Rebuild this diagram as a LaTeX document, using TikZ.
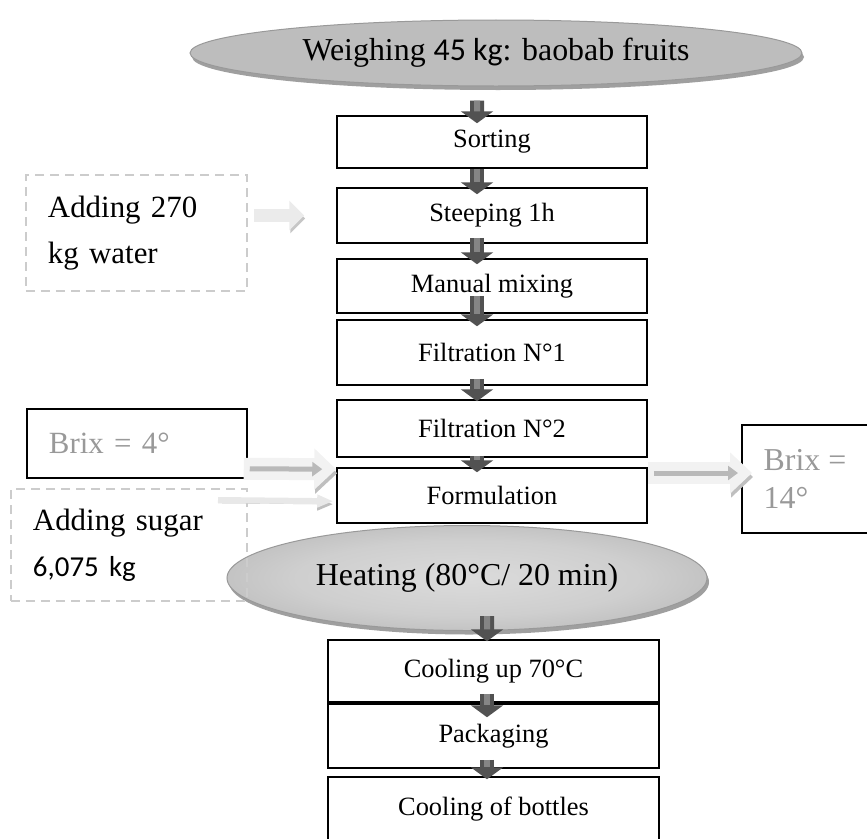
\documentclass[tikz,border=0pt]{standalone}
\usepackage{fontspec}
\setmainfont{Liberation Serif}
\newfontfamily\calibri{Carlito}
\usetikzlibrary{shapes.geometric,arrows.meta,shadows}
\pgfdeclareradialshading{heatshade}{\pgfpoint{0bp}{0bp}}{color(0bp)=(gray!28); color(18bp)=(gray!38); color(50bp)=(gray!78)}
\tikzset{
	stepbox/.style={draw, line width=1.5bp, minimum width=310bp, font=\fontsize{26.5}{30}\selectfont},
	sidebox/.style={draw, line width=1.5bp, align=left, inner xsep=22bp, font=\fontsize{31}{46}\selectfont},
	dashbox/.style={sidebox, draw=gray!40, line width=2bp, dash pattern=on 9bp off 6bp},
	oval/.style={ellipse, draw=gray!80, line width=1bp, font=\fontsize{32}{36}\selectfont, drop shadow={shadow xshift=2bp, shadow yshift=-4bp, fill=gray!75, opacity=1}},
	darr/.style={line width=14bp, draw=black!68, -{Triangle[width=32bp,length=12bp]}, postaction={draw=black!48, line width=6bp, arrows=-, shorten >=12bp}},
	waterarr/.style={line width=13bp, draw=gray!16, -{Triangle[width=29bp,length=15bp]}, preaction={draw=gray!45, transform canvas={shift={(1bp,-3bp)}}}},
	brixarr/.style={line width=22bp, draw=gray!10, -{Triangle[width=40bp,length=22bp]}, preaction={draw=gray!50, transform canvas={shift={(1bp,-4bp)}}}, postaction={draw=gray!55, line width=5bp, -{Triangle[width=14bp,length=10bp]}, shorten >=14bp, shorten <=6bp}},
	sugararr/.style={line width=6bp, draw=gray!18, -{Triangle[width=12bp,length=16bp]}, preaction={draw=gray!50, transform canvas={shift={(0bp,-3bp)}}}}
}
\begin{document}
\begin{tikzpicture}[x=1bp, y=-1bp, every node/.style={inner sep=0pt}]
	\useasboundingbox (0,0) rectangle (867,839);
	\node[oval, fill=gray!52, minimum width=612bp, minimum height=66bp] (weigh) at (496,53) {Weighing {\calibri 45 kg}: baobab fruits};
	\node[stepbox, minimum height=52bp] (sort) at (492,142) {Sorting};
	\node[stepbox, minimum height=55bp] (steep) at (492,215.5) {Steeping 1h};
	\node[stepbox, minimum height=54bp] (mix) at (492,286) {Manual mixing};
	\node[stepbox, minimum height=65bp] (filta) at (492,352.5) {Filtration N°1};
	\node[stepbox, minimum height=57bp] (filtb) at (492,428.5) {Filtration N°2};
	\node[stepbox, minimum height=55bp] (form) at (492,495.5) {Formulation};
	\node[oval, shade, shading=heatshade, minimum width=480bp, minimum height=105bp] (heat) at (467,578) {Heating (80°C/ 20 min)};
	\node[stepbox, minimum width=331bp, minimum height=62bp] (cool) at (493.5,671) {Cooling up 70°C};
	\node[stepbox, minimum width=331bp, minimum height=64bp] (pack) at (493.5,736) {Packaging};
	\node[stepbox, minimum width=331bp, minimum height=64bp] (bottle) at (493.5,809) {Cooling of bottles};
	\draw[darr] ([xshift=-19bp,yshift=-14bp]weigh.south) -- ([xshift=-15bp,yshift=-8bp]sort.north);
	\draw[darr] ([xshift=-15bp]sort.south) -- ([xshift=-15bp,yshift=-7bp]steep.north);
	\draw[darr] ([xshift=-15bp,yshift=6bp]steep.south) -- ([xshift=-15bp,yshift=-6bp]mix.north);
	\draw[darr] ([xshift=-15bp,yshift=18bp]mix.south) -- ([xshift=-15bp,yshift=-7bp]filta.north);
	\draw[darr] ([xshift=-15bp,yshift=7bp]filta.south) -- ([xshift=-15bp,yshift=-2bp]filtb.north);
	\draw[darr] ([xshift=-15bp,yshift=2bp]filtb.south) -- ([xshift=-15bp,yshift=-5bp]form.north);
	\draw[darr] ([xshift=20bp,yshift=15bp]heat.south) -- ([xshift=-6.5bp,yshift=-2bp]cool.north);
	\draw[darr] ([xshift=-6.5bp,yshift=9bp]cool.south) -- ([xshift=-6.5bp,yshift=-14bp]pack.north);
	\draw[darr] ([xshift=-6.5bp,yshift=9bp]pack.south) -- ([xshift=-6.5bp,yshift=-3bp]bottle.north);
	\node[dashbox, text width=177bp, minimum height=116bp] (water) at (136.5,233) {Adding 270\\kg water};
	\draw[waterarr, shorten <=6bp, shorten >=32bp] (water.east |- steep.west) -- (steep.west);
	\node[sidebox, text=gray!80, text width=176bp, minimum height=69bp] (brixa) at (137,443.5) {Brix = 4°};
	\node[dashbox, text width=192bp, minimum height=112bp] (sugar) at (129,545) {Adding sugar\\{\calibri\fontsize{29}{46}\selectfont 6,075 kg}};
	\node[sidebox, text=gray!80, minimum width=126bp, minimum height=108bp, inner xsep=0pt, font=\fontsize{32}{38}\selectfont] (brixb) at (805,479) {Brix =\\14°};
	\coordinate (tipb) at (752,473);
	\draw[brixarr] ([xshift=-4bp,yshift=10bp]brixa.south east) -- ([yshift=-2bp]form.north west);
	\draw[sugararr, shorten >=3bp] ([xshift=-30bp,yshift=-12bp]sugar.north east) -- ([yshift=-34bp]form.north west);
	\draw[brixarr] (form.east |- tipb) -- (tipb);
\end{tikzpicture}
\end{document}
